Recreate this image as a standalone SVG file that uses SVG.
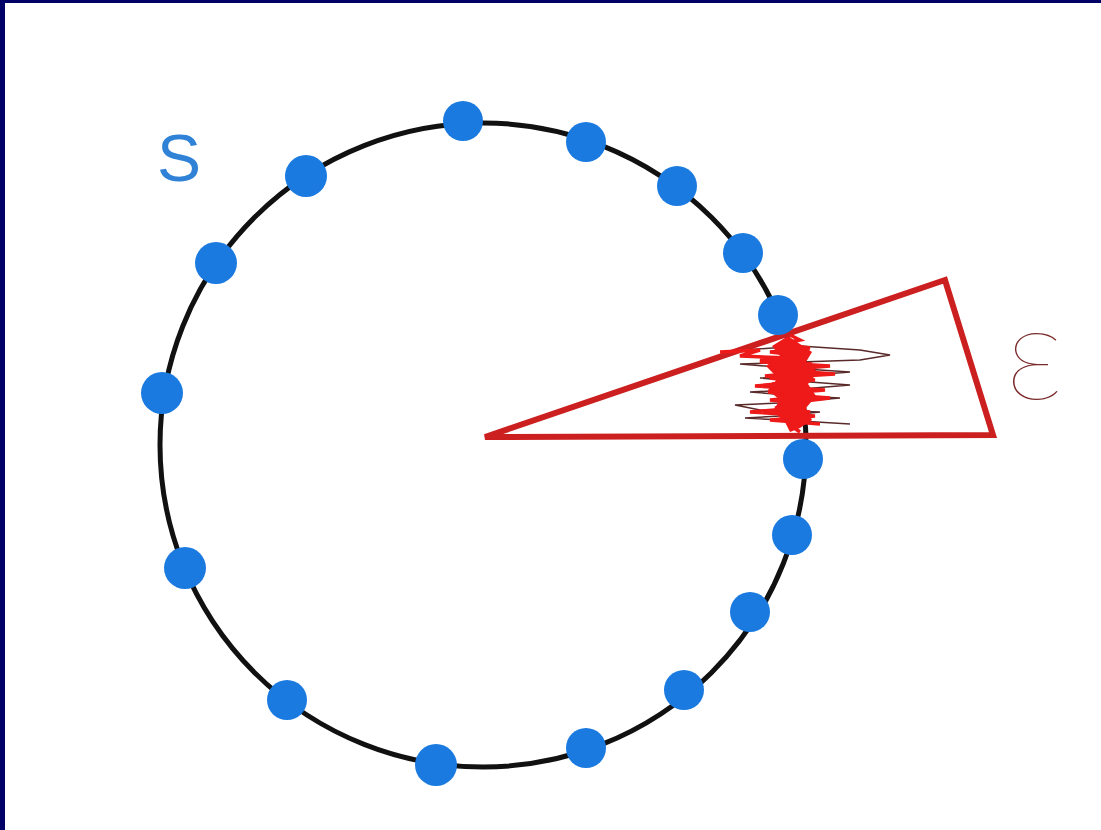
<svg xmlns="http://www.w3.org/2000/svg" width="1101" height="830" viewBox="0 0 1101 830">
<style>
.dot{fill:#1a7ae0}
.ring{fill:none;stroke:#111;stroke-width:5}
.tri{fill:none;stroke:#cc2020;stroke-width:6;stroke-linejoin:miter}
.scr{fill:none;stroke:#ee1a1a;stroke-width:3.5}
.scd{fill:none;stroke:#5a2a2a;stroke-width:1.5}
.lbl{font-family:"Liberation Sans",Arial,sans-serif}
</style>
<rect width="1101" height="830" fill="#fff"/>
<rect x="0" y="0" width="1101" height="3" fill="#000066"/>
<rect x="0" y="0" width="5" height="830" fill="#000066"/>
<g id="connectors">
<ellipse class="ring" cx="483" cy="445" rx="323" ry="322"/>
</g>
<g id="wedge">
<polygon class="tri" points="485,437 945,280 993,435"/>
<g id="scribble">
<polyline class="scd" points="745,350 800,346 860,350 890,355 860,360 800,362 740,364 790,368 850,372 800,376 760,378 810,382 850,385 790,390 750,392 800,396 840,398 780,403 735,405 760,410 820,412 780,416 745,418 800,421 850,424"/>
<polygon fill="#ee1a1a" points="788,336 800,344 812,352 806,362 818,372 808,384 816,396 806,408 812,420 800,428 790,432 784,420 772,412 780,400 768,390 778,378 766,366 780,356 772,346"/>
<polyline class="scr" points="790,335 800,340 780,344 810,348 770,352 805,356 760,360 812,364 770,368 806,372 765,376 815,380 772,384 808,388 768,392 812,396 770,400 806,404 775,408 810,412 780,416 805,420 790,425 800,432"/>
<polyline class="scr" points="720,352 760,350 740,356 790,358 760,362 830,366 780,370 835,374 770,378 800,382 755,386 825,390 775,394 830,398 780,404 800,408 750,412 815,416 770,420 820,424"/>
<polyline class="scr" points="783,345 795,360 785,375 798,390 786,405 797,420 790,430"/>
</g>
</g>
<g id="nodes">
<g id="n1"><circle class="dot" cx="463" cy="121" r="20"/></g>
<g id="n2"><circle class="dot" cx="586" cy="142" r="20"/></g>
<g id="n3"><circle class="dot" cx="677" cy="186" r="20"/></g>
<g id="n4"><circle class="dot" cx="743" cy="253" r="20"/></g>
<g id="n5"><circle class="dot" cx="778" cy="315" r="20"/></g>
<g id="n6"><circle class="dot" cx="803" cy="459" r="20"/></g>
<g id="n7"><circle class="dot" cx="792" cy="535" r="20"/></g>
<g id="n8"><circle class="dot" cx="750" cy="612" r="20"/></g>
<g id="n9"><circle class="dot" cx="684" cy="690" r="20"/></g>
<g id="n10"><circle class="dot" cx="586" cy="748" r="20"/></g>
<g id="n11"><circle class="dot" cx="436" cy="765" r="21"/></g>
<g id="n12"><circle class="dot" cx="287" cy="700" r="20"/></g>
<g id="n13"><circle class="dot" cx="185" cy="568" r="21"/></g>
<g id="n14"><circle class="dot" cx="162" cy="393" r="21"/></g>
<g id="n15"><circle class="dot" cx="216" cy="263" r="21"/></g>
<g id="n16"><circle class="dot" cx="306" cy="176" r="21"/></g>
</g>
<g id="labels">
<text class="lbl" x="157" y="181" font-size="66" fill="#2f82d6">S</text>
<text x="1005" y="399" font-size="132" font-weight="100" fill="#7a2a2a" style="font-family:Lato,'Liberation Sans',sans-serif">ε</text>
</g>
</svg>
